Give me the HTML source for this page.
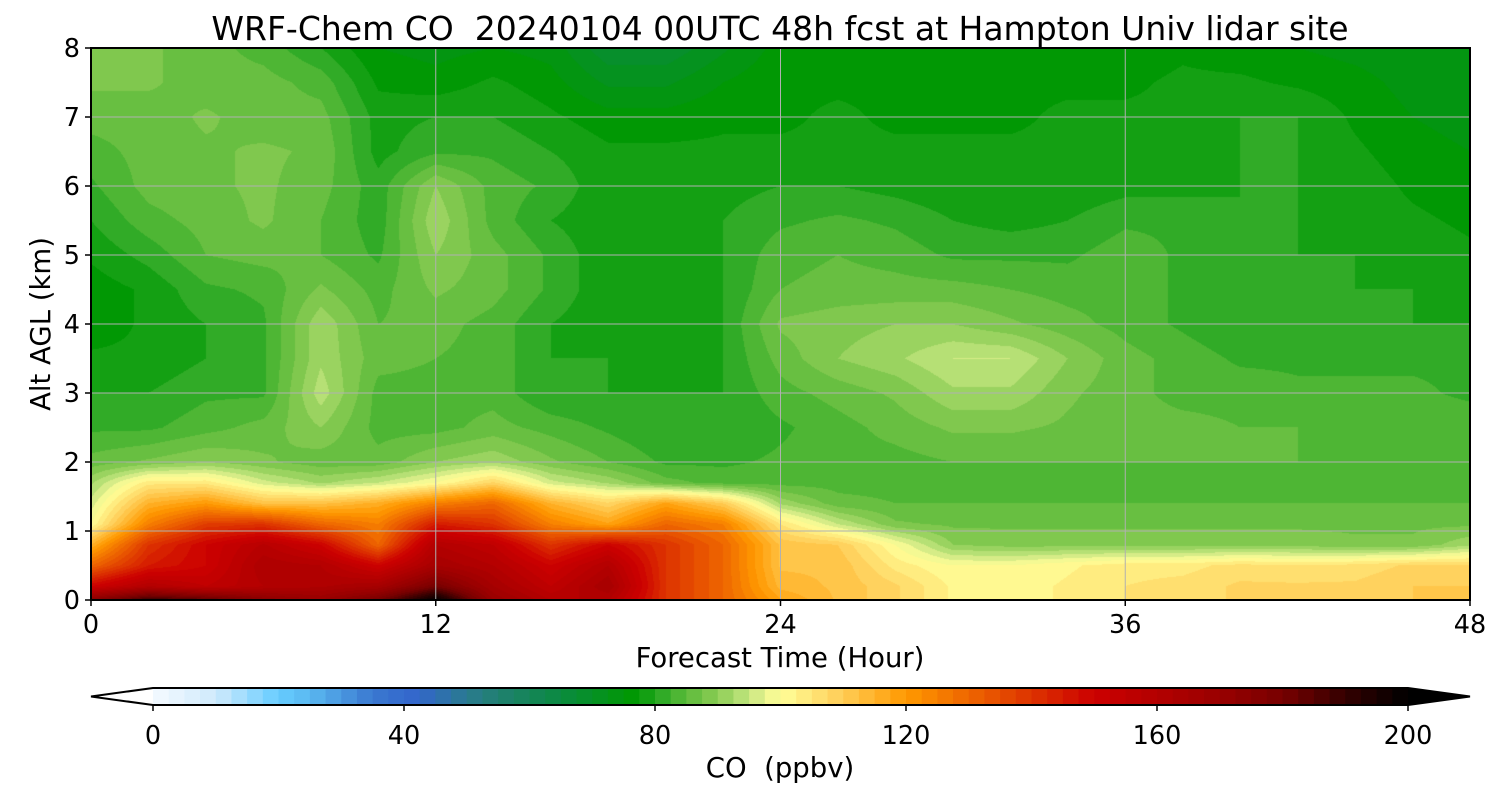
<!DOCTYPE html>
<html><head><meta charset="utf-8"><style>
body{margin:0;background:#fff;width:1500px;height:800px;overflow:hidden;font-family:"DejaVu Sans","Liberation Sans",sans-serif}
#wrap{position:relative;width:1500px;height:800px}
canvas{position:absolute;left:91px;top:48px}
svg{position:absolute;left:0;top:0}
svg text{font-family:"DejaVu Sans","Liberation Sans",sans-serif;white-space:pre}
</style></head><body><div id="wrap">
<canvas id="cv" width="1379" height="552"></canvas>
<svg id="sv" width="1500" height="800"></svg>
</div>
<script>
const times=[0,2,4,6,8,10,12,14,16,18,20,22,24,26,28,30,32,34,36,38,40,42,44,46,48];
const alts=[0,0.2,0.5,0.8,1.1,1.4,1.7,2.0,2.5,3,3.5,4,4.5,5,5.5,6,6.5,7,7.5,8];
const coValues=[
[175,190,185,175,170,180,200,170,160,160,140,130,118,112,108,102,101,103,105,106,108,108,108,110,110],
[150,160,155,160,162,165,180,165,155,165,140,130,114,112,108,102,101,103,105,106,108,108,108,110,110],
[130,145,150,162,160,150,165,160,150,160,140,130,112,112,104,100,100,102,104,104,106,105,106,108,108],
[115,140,150,158,150,130,160,155,140,150,140,130,112,110,100,90,89,89,89,89,89,89,88,88,92],
[100,125,138,140,130,125,145,140,125,118,130,125,105,95,88,87,87,87,87,87,87,87,87,87,87],
[96,115,120,112,112,116,125,130,115,108,118,110,92,86,85,85,85,85,85,85,85,85,85,85,85],
[92,104,104,96,92,95,100,108,96,92,86,84,84,84,84,84,84,84,84,84,84,84,84,84,84],
[86,88,90,88,86,86,90,92,88,85,82,82,83,84,84,85,85,85,85,85,85,85,85,84,84],
[82,82,84,86,90,84,84,86,84,82,80,80,82,84,86,88,88,87,86,86,85,85,84,84,84],
[80,80,82,82,94,84,84,84,80,80,80,80,84,86,88,92,92,88,86,84,84,83,83,83,82],
[78,78,80,82,92,86,85,84,80,80,78,80,86,90,92,95,95,90,86,84,82,82,82,82,82],
[76,78,80,82,92,85,86,84,80,78,78,80,88,89,90,90,88,86,84,82,80,80,80,80,80],
[76,78,82,83,88,84,88,86,82,78,78,80,85,86,86,86,85,84,84,82,80,80,80,80,79],
[78,81,85,86,85,82,90,86,82,78,78,80,84,85,84,82,82,82,84,82,80,80,80,79,78],
[80,84,86,88,85,81,92,84,80,78,78,80,82,83,82,80,79,80,82,82,80,80,79,78,77],
[82,86,87,88,86,81,90,84,82,78,79,79,80,80,79,78,78,78,79,79,80,80,79,77,76],
[84,86,87,88,87,79,82,82,80,78,78,78,78,78,78,78,78,78,78,78,80,80,78,76,75],
[86,86,88,86,86,79,80,80,78,76,76,77,77,78,77,77,77,78,78,78,80,80,77,75,74],
[88,88,86,86,84,77,76,78,76,72,72,75,77,77,77,77,77,77,77,78,78,77,76,74,73],
[89,88,86,84,80,75,74,75,74,68,68,72,76,76,77,77,76,76,76,77,76,75,74,73,73]];
const xTicks=[0,12,24,36,48];
const yTicks=[0,1,2,3,4,5,6,7,8];
const cbTicks=[0,40,80,120,160,200];
const anchors=[[0,'#f5faff'],[10,'#cfeafc'],[20,'#66ccff'],[25,'#5ab8f0'],[35,'#3a78d0'],[42,'#3366cc'],[50,'#2a7a90'],[55,'#208070'],[65,'#0a8a40'],[77,'#009900'],[80,'#22a520'],[85,'#5cbb3a'],[90,'#8ccc55'],[95,'#c4e680'],[98,'#eef590'],[100,'#ffff99'],[110,'#ffcc55'],[120,'#ff9900'],[130,'#ee6600'],[140,'#dd3300'],[150,'#cc0000'],[160,'#b30000'],[170,'#990000'],[180,'#770000'],[190,'#330000'],[200,'#000000']];
const PX=91,PY=48,PW=1379,PH=552;
const xs=t=>PX+t/48*PW, ys=a=>PY+PH-a/8*PH;
function hex(h){return [1,3,5].map(i=>parseInt(h.substr(i,2),16));}
const anc=anchors.map(a=>[a[0],hex(a[1])]);
function cmap(v){v=Math.max(0,Math.min(200,v));for(let i=1;i<anc.length;i++){if(v<=anc[i][0]){const f=(v-anc[i-1][0])/(anc[i][0]-anc[i-1][0]);return anc[i-1][1].map((c,k)=>Math.round(c+(anc[i][1][k]-c)*f));}}return anc[anc.length-1][1];}
function quant(v){const l=Math.floor(v/2.5);return cmap(l*2.5+1.25);}
function idx(arr,v){let i=0;while(i<arr.length-2&&v>arr[i+1])i++;return [i,(v-arr[i])/(arr[i+1]-arr[i])];}
const cv=document.getElementById('cv'),ctx=cv.getContext('2d');
const img=ctx.createImageData(PW,PH);
const colT=[];for(let x=0;x<PW;x++)colT.push(idx(times,(x+0.5)/PW*48));
for(let y=0;y<PH;y++){const a=(PH-y-0.5)/PH*8;const [j,fy]=idx(alts,a);
 for(let x=0;x<PW;x++){const [i,fx]=colT[x];
  const v=(coValues[j][i]*(1-fx)+coValues[j][i+1]*fx)*(1-fy)+(coValues[j+1][i]*(1-fx)+coValues[j+1][i+1]*fx)*fy;
  const c=quant(v);const p=(y*PW+x)*4;img.data[p]=c[0];img.data[p+1]=c[1];img.data[p+2]=c[2];img.data[p+3]=255;}}
ctx.putImageData(img,0,0);
const sv=document.getElementById('sv');const NS='http://www.w3.org/2000/svg';
function el(tag,at,txt){const e=document.createElementNS(NS,tag);for(const k in at)e.setAttribute(k,at[k]);if(txt!==undefined)e.textContent=txt;sv.appendChild(e);return e;}
xTicks.forEach(t=>{const g=el('line',{x1:xs(t),x2:xs(t),y1:PY,y2:PY+PH,stroke:'#b0b0b0','stroke-width':1});


el('line',{x1:xs(t),x2:xs(t),y1:PY+PH,y2:PY+PH+6,stroke:'#000','stroke-width':1.5});
const l=el('text',{x:xs(t),y:633,'font-size':25.5,'text-anchor':'middle'},String(t));

});
yTicks.forEach(a=>{const g=el('line',{x1:PX,x2:PX+PW,y1:ys(a),y2:ys(a),stroke:'#b0b0b0','stroke-width':1});


el('line',{x1:PX-6,x2:PX,y1:ys(a),y2:ys(a),stroke:'#000','stroke-width':1.5});
const l=el('text',{x:80,y:ys(a)+9,'font-size':25.5,'text-anchor':'end'},String(a));

});
const fr=el('rect',{x:PX,y:PY,width:PW,height:PH,fill:'none',stroke:'#000','stroke-width':2});


let e;
e=el('text',{x:780,y:40,'font-size':33,'text-anchor':'middle'},'WRF-Chem CO  20240104 00UTC 48h fcst at Hampton Univ lidar site');


e=el('text',{x:780,y:667,'font-size':27.5,'text-anchor':'middle'},'Forecast Time (Hour)');


e=el('text',{x:0,y:0,'font-size':27.5,'text-anchor':'middle',transform:'translate(50,324) rotate(-90)'},'Alt AGL (km)');


// colorbar
const CX0=153,CX1=1408,CY=688,CH=17;const cx=v=>CX0+v/200*(CX1-CX0);
for(let l=0;l<80;l++){const r=el('rect',{x:cx(l*2.5),y:CY,width:(CX1-CX0)/80+0.6,height:CH,fill:'rgb('+quant(l*2.5+1).join(',')+')'});

}
e=el('polygon',{points:`${CX0},${CY} 91,${CY+CH/2} ${CX0},${CY+CH}`,fill:'#fff',stroke:'none'});


e=el('polygon',{points:`${CX1},${CY} 1470,${CY+CH/2} ${CX1},${CY+CH}`,fill:'#000'});


e=el('polygon',{points:`${CX0},${CY} 91,${CY+CH/2} ${CX0},${CY+CH} ${CX1},${CY+CH} 1470,${CY+CH/2} ${CX1},${CY}`,fill:'none',stroke:'#000','stroke-width':2});


cbTicks.forEach(v=>{el('line',{x1:cx(v),x2:cx(v),y1:CY+CH,y2:CY+CH+6,stroke:'#000','stroke-width':1.5});
const l=el('text',{x:cx(v),y:744,'font-size':25.5,'text-anchor':'middle'},String(v));

});
e=el('text',{x:780,y:777,'font-size':27.5,'text-anchor':'middle'},'CO  (ppbv)');


</script></body></html>
